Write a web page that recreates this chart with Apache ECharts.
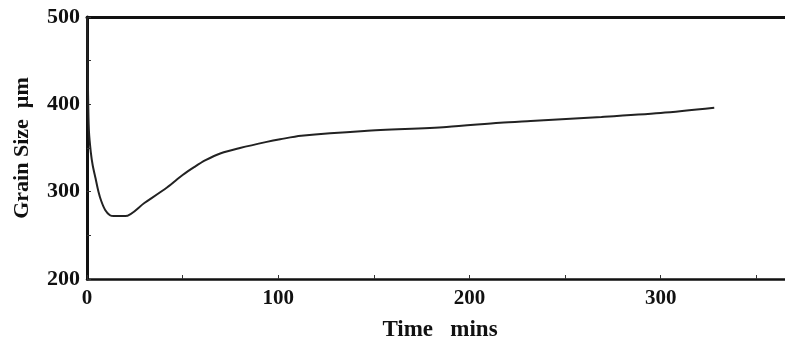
<!DOCTYPE html>
<html><head><meta charset="utf-8">
<script src="https://cdn.jsdelivr.net/npm/echarts@6/dist/echarts.min.js"></script>
<style>html,body{margin:0;padding:0;background:#fff}#c{width:785px;height:339px}</style>
</head><body><div id="c"></div>
<script>
const timeMins = [0,0.5,1,2,3,4.5,6,7.5,9.5,12,14,20,30,42,50,56,62,70,80,94,101,112,145,188,216,232,269,300,328];
const grainSize = [500,420,370,345,330,315,300,289,279,273,272,272,287,305,319,328,336,344,350,357,360,364,369.5,374,379,381,385.5,390,396];
const xTickLabels = [0,100,200,300];
const yTickLabels = [200,300,400,500];

const font = {fontFamily:'Liberation Serif', fontWeight:'bold', color:'#111'};
const chart = echarts.init(document.getElementById('c'));
chart.setOption({
  animation:false,
  grid:{left:87, right:0, top:17, bottom:60, outerBoundsMode:'none', containLabel:false},
  xAxis:[{
    type:'value', min:0, max:365, interval:50,
    name:'Time   mins', nameLocation:'middle', nameGap:40,
    nameTextStyle:Object.assign({fontSize:23, padding:[0,0,0,8]}, font),
    axisLine:{lineStyle:{color:'#111', width:2.5}},
    axisTick:{inside:true, length:4, lineStyle:{color:'#333', width:1}},
    splitLine:{show:false},
    axisLabel:Object.assign({fontSize:21, margin:9, showMaxLabel:false,
      formatter:v=>xTickLabels.includes(v)?String(v):''}, font)
  },{
    type:'value', position:'top', min:0, max:365,
    axisLine:{show:true, lineStyle:{color:'#111', width:3}},
    axisTick:{show:false}, axisLabel:{show:false}, splitLine:{show:false}
  }],
  yAxis:{
    type:'value', min:200, max:500, interval:50,
    name:'Grain Size  µm', nameLocation:'middle', nameGap:54, nameRotate:90,
    nameTextStyle:Object.assign({fontSize:22}, font),
    axisLine:{show:true, lineStyle:{color:'#111', width:3}},
    axisTick:{inside:true, length:4, lineStyle:{color:'#333', width:1}},
    splitLine:{show:false},
    axisLabel:Object.assign({fontSize:22, margin:7,
      formatter:v=>yTickLabels.includes(v)?String(v):''}, font)
  },
  series:[{
    type:'line', xAxisIndex:0, showSymbol:false, smooth:0.3,
    lineStyle:{color:'#222', width:2},
    data: timeMins.map((t,i)=>[t, grainSize[i]])
  }]
});
</script></body></html>
